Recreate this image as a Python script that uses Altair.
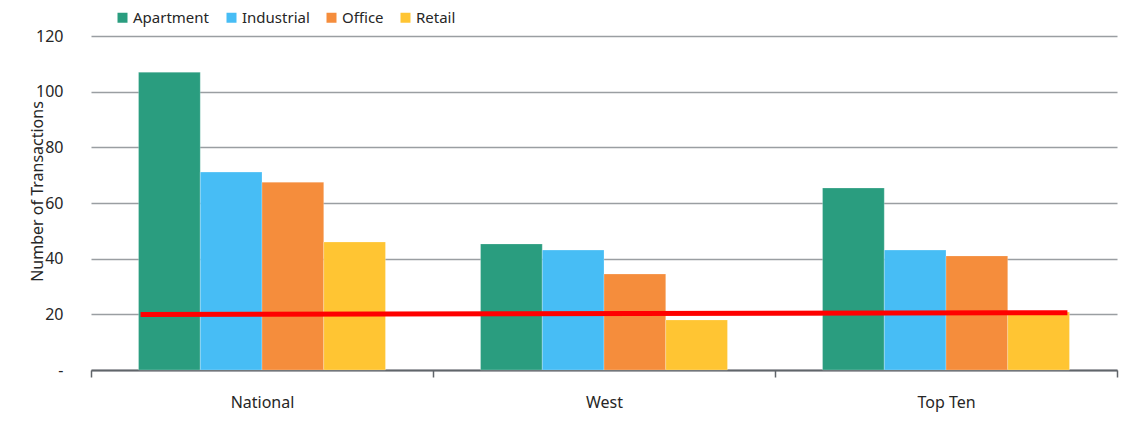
import altair as alt
import pandas as pd

# ---- data ----
regions = ["National", "West", "Top Ten"]
types = ["Apartment", "Industrial", "Office", "Retail"]
apartment = [107, 45.3, 65.4]
industrial = [71.1, 43.1, 43.1]
office = [67.5, 34.5, 41]
retail = [46, 18, 20.8]
line_values = [19.9, 20.6]  # red reference line, left end -> right end
colors = ["#2a9d7f", "#47bdf5", "#f58d3c", "#ffc533"]

rows = []
for i, r in enumerate(regions):
    for t, s in zip(types, [apartment, industrial, office, retail]):
        rows.append({"region": r, "type": t, "value": s[i]})
df = pd.DataFrame(rows)

FONT = "Noto Sans"
W, H = 1026, 334
offset_pad = 0.77
edge = offset_pad / (len(types) + 2 * offset_pad) + 0.006
line_df = pd.DataFrame({"pos": [edge, len(regions) - edge], "value": line_values})

bars = alt.Chart(df).mark_bar(stroke="white", strokeWidth=0.4, strokeOpacity=0.6).encode(
    x=alt.X("region:N", sort=regions, title=None,
            scale=alt.Scale(paddingInner=0, paddingOuter=0),
            axis=alt.Axis(labelAngle=0, tickBand="extent", tickSize=7, ticks=True,
                          domainColor="#60656a", domainWidth=2, tickColor="#60656a",
                          tickWidth=1.5, labelPadding=17, labelFontSize=16,
                          labelColor="#262626", labelFont=FONT)),
    xOffset=alt.XOffset("type:N", sort=types,
                        scale=alt.Scale(paddingInner=0, paddingOuter=offset_pad)),
    y=alt.Y("value:Q", scale=alt.Scale(domain=[0, 120]),
            title="Number of Transactions",
            axis=alt.Axis(values=[0, 20, 40, 60, 80, 100, 120], domain=False, ticks=False,
                          grid=True, gridColor="#9a9ea2", gridWidth=1.5,
                          labelExpr="datum.value == 0 ? '-' : datum.label",
                          labelPadding=28, labelFontSize=16, labelColor="#262626",
                          labelFont=FONT, titleFont=FONT, titleFontSize=16,
                          titleFontWeight="normal", titleColor="#262626",
                          titleX=-54, titleY=155, titleAngle=270,
                          titleAlign="center", titleBaseline="middle")),
    color=alt.Color("type:N", sort=types, title=None,
                    scale=alt.Scale(domain=types, range=colors),
                    legend=alt.Legend(orient="none", legendX=24, legendY=-26,
                                      direction="horizontal", columns=4,
                                      symbolType="square", symbolSize=100,
                                      symbolStrokeWidth=0, labelOffset=3,
                                      columnPadding=14, labelFontSize=15,
                                      labelFont=FONT, labelColor="#262626")),
)

line = alt.Chart(line_df).mark_line(color="#ff0000", strokeWidth=5, strokeCap="butt").encode(
    x=alt.X("pos:Q", scale=alt.Scale(domain=[0, len(regions)], nice=False, zero=False),
            axis=None),
    y=alt.Y("value:Q", scale=alt.Scale(domain=[0, 120])),
)

chart = alt.layer(bars, line).resolve_scale(x="independent").properties(
    width=W, height=H,
    autosize=alt.AutoSizeParams(type="none"),
    padding={"left": 91, "top": 36, "right": 9, "bottom": 55},
).configure_view(stroke=None)

chart.save("out.html", embed_options={"renderer": "svg", "actions": False})
